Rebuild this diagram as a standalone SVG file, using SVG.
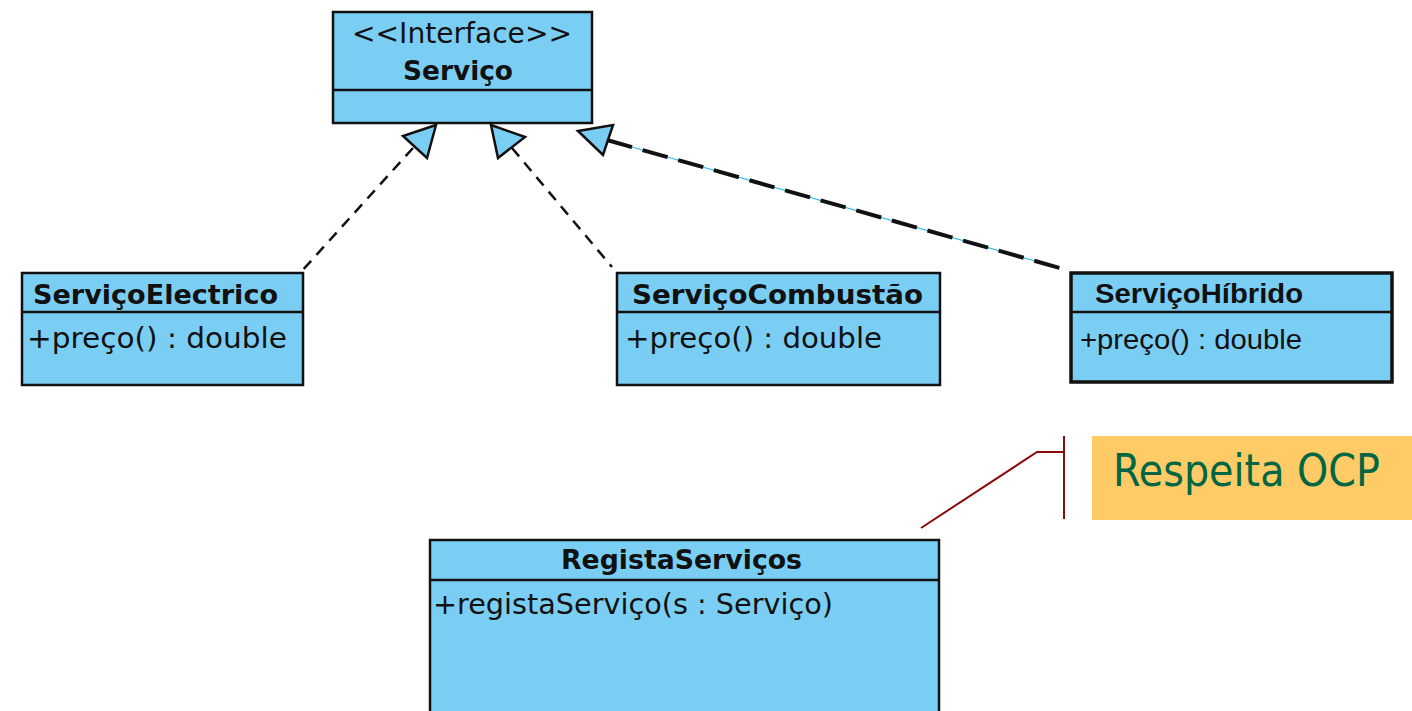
<svg xmlns="http://www.w3.org/2000/svg" width="1412" height="711" viewBox="0 0 1412 711">
<style>
.box{fill:#7bcef3;stroke:#111;stroke-width:2.5}
.thick{stroke-width:3.5}
.div{stroke:#111;stroke-width:2.5}
.t{font-family:"DejaVu Sans",sans-serif;font-size:28px;fill:#111}
.b{font-weight:bold;font-size:27px}
.a{font-family:"Liberation Sans",Arial,sans-serif;font-size:27px;fill:#111}
.dash{stroke:#111;stroke-width:2.5;stroke-dasharray:11 8;fill:none}
.tri{fill:#7bcef3;stroke:#111;stroke-width:2.5;stroke-linejoin:miter}
</style>
<rect width="1412" height="711" fill="#fff"/>
<g id="connectors">
  <line class="dash" x1="413" y1="148" x2="301" y2="272"/>
  <polygon class="tri" points="436,125 403,136 427,158"/>
  <line class="dash" x1="512" y1="148" x2="612" y2="267"/>
  <polygon class="tri" points="491,125 525,137 498,158"/>
  <line x1="607" y1="140" x2="1060" y2="268" stroke="#33bbee" stroke-width="1.2"/>
  <line x1="607" y1="140" x2="1060" y2="268" stroke="#111" stroke-width="4" stroke-dasharray="26 11"/>
  <polygon class="tri" points="578,131 613,125 603,155" stroke-width="3.5"/>
  <polyline points="921,528 1037,452 1064,452" fill="none" stroke="#8b0a0a" stroke-width="2"/>
  <line x1="1064" y1="436" x2="1064" y2="519" stroke="#8b0a0a" stroke-width="2"/>
</g>
<g id="servico">
  <rect class="box" x="333" y="12" width="259" height="111"/>
  <line class="div" x1="333" y1="90" x2="592" y2="90"/>
  <text class="t" x="352" y="43" textLength="220" lengthAdjust="spacingAndGlyphs">&lt;&lt;Interface&gt;&gt;</text>
  <text class="t b" x="403" y="80" textLength="110" lengthAdjust="spacingAndGlyphs">Serviço</text>
</g>
<g id="servicoElectrico">
  <rect class="box" x="22" y="273" width="281" height="112"/>
  <line class="div" x1="22" y1="312" x2="303" y2="312"/>
  <text class="t b" x="33" y="304" textLength="245" lengthAdjust="spacingAndGlyphs">ServiçoElectrico</text>
  <text class="t" x="27" y="348" textLength="260" lengthAdjust="spacingAndGlyphs">+preço() : double</text>
</g>
<g id="servicoCombustao">
  <rect class="box" x="617" y="273" width="323" height="112"/>
  <line class="div" x1="617" y1="312" x2="940" y2="312"/>
  <text class="t b" x="632" y="304" textLength="291" lengthAdjust="spacingAndGlyphs">ServiçoCombustão</text>
  <text class="t" x="625" y="348" textLength="257" lengthAdjust="spacingAndGlyphs">+preço() : double</text>
</g>
<g id="servicoHibrido">
  <rect class="box thick" x="1071" y="273" width="321" height="109"/>
  <line class="div" x1="1071" y1="312" x2="1392" y2="312" stroke-width="3"/>
  <text class="a b" x="1095" y="303" textLength="208" lengthAdjust="spacingAndGlyphs">ServiçoHíbrido</text>
  <text class="a" x="1080" y="349" textLength="222" lengthAdjust="spacingAndGlyphs">+preço() : double</text>
</g>
<g id="nota">
  <rect x="1092" y="436" width="320" height="84" fill="#fecb66"/>
  <text x="1113" y="486" font-family="'DejaVu Sans',Verdana,sans-serif" font-size="44" fill="#006644" textLength="267" lengthAdjust="spacingAndGlyphs">Respeita OCP</text>
</g>
<g id="registaServicos">
  <rect class="box" x="430" y="540" width="509" height="190"/>
  <line class="div" x1="430" y1="580" x2="939" y2="580"/>
  <text class="t b" x="561" y="569" textLength="241" lengthAdjust="spacingAndGlyphs">RegistaServiços</text>
  <text class="t" x="433" y="614" textLength="400" lengthAdjust="spacingAndGlyphs">+registaServiço(s : Serviço)</text>
</g>
</svg>
